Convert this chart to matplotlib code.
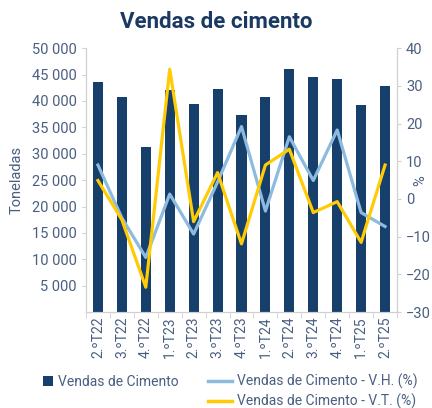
import matplotlib.pyplot as plt
import numpy as np
from matplotlib.lines import Line2D
from matplotlib.patches import Patch

# Data
quarters = ["2.ºT22", "3.ºT22", "4.ºT22", "1.ºT23", "2.ºT23", "3.ºT23", "4.ºT23",
            "1.ºT24", "2.ºT24", "3.ºT24", "4.ºT24", "1.ºT25", "2.ºT25"]
vendas = [43500, 40700, 31200, 42000, 39500, 42300, 37300,
          40800, 46100, 44500, 44200, 39200, 42800]
var_homologa = [9.0, -5.0, -15.5, 1.3, -9.3, 4.5, 19.2,
                -3.2, 16.5, 4.9, 18.3, -3.6, -7.3]
var_trimestral = [4.9, -5.5, -23.4, 34.4, -6.0, 7.0, -11.9,
                  9.0, 13.2, -3.6, -0.7, -11.5, 9.0]

plt.rcParams["font.family"] = ["Roboto", "DejaVu Sans"]

color_bar = "#173f6b"
color_vh = "#8dbbdf"
color_vt = "#ffcb05"
color_text = "#4a5f80"
color_spine = "#d0d0d0"

fig = plt.figure(figsize=(4.32, 4.08), dpi=100)
ax = fig.add_axes([0.199, 0.235, 0.72, 0.647])
ax2 = ax.twinx()

x = np.arange(len(quarters))
ax.bar(x, vendas, width=0.42, color=color_bar, zorder=2)
ax.set_xlim(-0.5, len(quarters) - 0.5)
ax.set_ylim(0, 50000)
ax.set_yticks(np.arange(5000, 50001, 5000))
ax.set_yticklabels([f"{v:,}".replace(",", " ") for v in range(5000, 50001, 5000)])
ax.set_ylabel("Toneladas", color=color_text, fontsize=10.5)
ax.yaxis.set_label_coords(-0.2, 0.5)

ax.set_xticks(x)
ax.set_xticklabels(quarters, rotation=90, fontsize=10, color=color_text)
ax.set_xticks(np.arange(-0.5, len(quarters)), minor=True)
ax.tick_params(axis="x", which="major", length=0, pad=3)
ax.tick_params(axis="x", which="minor", length=4, color=color_spine)
ax.tick_params(axis="y", labelsize=10.5, labelcolor=color_text, length=3,
               color=color_spine)

ax2.plot(x, var_homologa, color=color_vh, linewidth=2.3, zorder=3)
ax2.plot(x, var_trimestral, color=color_vt, linewidth=2.3, zorder=4)
ax2.set_ylim(-30, 40)
ax2.set_yticks(np.arange(-30, 41, 10))
ax2.tick_params(axis="y", labelsize=10.5, labelcolor=color_text, length=3,
                color=color_spine)
ax2.set_ylabel("%", color=color_text, fontsize=10.5)
ax2.yaxis.set_label_coords(1.052, 0.5)

for a in (ax, ax2):
    a.spines["top"].set_visible(False)
    for s in ("left", "right", "bottom"):
        a.spines[s].set_color(color_spine)

fig.suptitle("Vendas de cimento", x=0.5, y=0.972, fontsize=16,
             fontweight="bold", color="#1b3a63")

# bar legend on the left, line legend on the right
leg1 = fig.legend(handles=[Patch(facecolor=color_bar, label="Vendas de Cimento")],
                  loc="center left", bbox_to_anchor=(43 / 432, 1 - 382 / 408),
                  frameon=False, fontsize=10, handlelength=0.7, handleheight=0.7,
                  handletextpad=0.4, borderpad=0, borderaxespad=0)
line_handles = [
    Line2D([], [], color=color_vh, linewidth=2.5, label="Vendas de Cimento - V.H. (%)"),
    Line2D([], [], color=color_vt, linewidth=2.5, label="Vendas de Cimento - V.T. (%)"),
]
leg2 = fig.legend(handles=line_handles, loc="center left",
                  bbox_to_anchor=(208 / 432, 1 - 391.5 / 408), frameon=False,
                  fontsize=10, handlelength=1.7, labelspacing=0.35,
                  handletextpad=0.4, borderpad=0, borderaxespad=0)
for leg in (leg1, leg2):
    for t in leg.get_texts():
        t.set_color(color_text)

fig.savefig("out.png", dpi=100)
